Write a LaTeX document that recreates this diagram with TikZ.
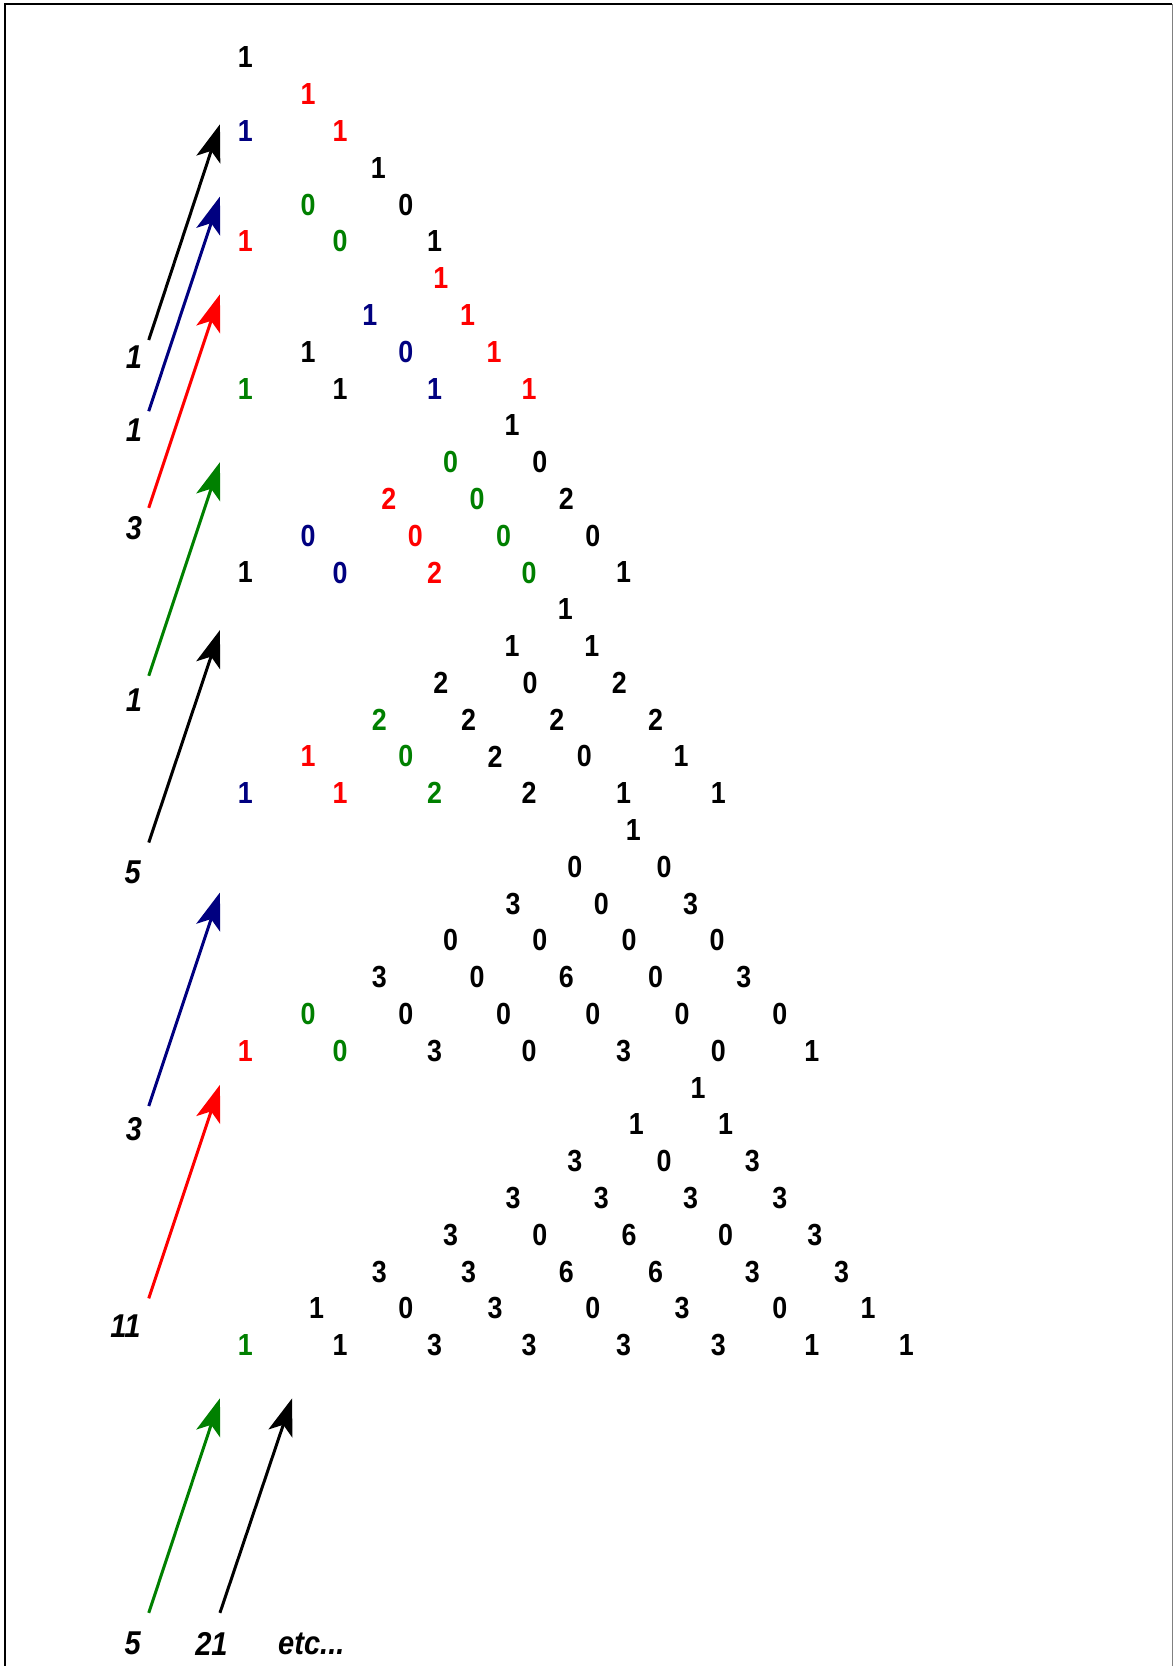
\documentclass[tikz,border=0pt]{standalone}
\usepackage{fontspec}
\setmainfont{Liberation Sans}
\newfontfamily\numfont[FakeStretch=0.88]{Liberation Sans}
\usetikzlibrary{arrows.meta}
\definecolor{cred}{RGB}{255,0,0}
\definecolor{cblue}{RGB}{0,0,128}
\definecolor{cgreen}{RGB}{0,128,0}
\definecolor{cblack}{RGB}{0,0,0}
\newcommand{\numnode}[5]{\node[num,text=#4] (#1) at (#2,{54+34.63*#3}) {#5};}
\begin{document}
\begin{tikzpicture}[x=1.0625pt,y=-1.0625pt,
  num/.style={font=\numfont\fontsize{30.5}{30.5}\selectfont\bfseries,inner sep=0pt,anchor=center},
  lab/.style={font=\numfont\fontsize{33}{33}\selectfont\bfseries\itshape,inner sep=0pt,anchor=center},
  arr/.style={line width=3pt,-{Stealth[length=37pt,width=25pt,inset=9pt]}}]
\useasboundingbox (0,0) rectangle (1104,1568);
\fill[white] (0,0) rectangle (1104,1568);
\draw[line width=2pt,black] (4.7,1568) -- (4.7,3.8) -- (1103.5,3.8);
\draw[line width=1pt,gray] (1103.1,3.8) -- (1103.1,1568);
\numnode{a0}{231}{0}{cblack}{1}
\numnode{b0}{290}{1}{cred}{1}
\numnode{c0}{231}{2}{cblue}{1}
\numnode{c1}{320}{2}{cred}{1}
\numnode{d0}{356}{3}{cblack}{1}
\numnode{e0}{290}{4}{cgreen}{0}
\numnode{e1}{382}{4}{cblack}{0}
\numnode{f0}{231}{5}{cred}{1}
\numnode{f1}{320}{5}{cgreen}{0}
\numnode{f2}{409}{5}{cblack}{1}
\numnode{g0}{415}{6}{cred}{1}
\numnode{h0}{348}{7}{cblue}{1}
\numnode{h1}{440}{7}{cred}{1}
\numnode{i0}{290}{8}{cblack}{1}
\numnode{i1}{382}{8}{cblue}{0}
\numnode{i2}{465}{8}{cred}{1}
\numnode{j0}{231}{9}{cgreen}{1}
\numnode{j1}{320}{9}{cblack}{1}
\numnode{j2}{409}{9}{cblue}{1}
\numnode{j3}{498}{9}{cred}{1}
\numnode{k0}{482}{10}{cblack}{1}
\numnode{l0}{424}{11}{cgreen}{0}
\numnode{l1}{508}{11}{cblack}{0}
\numnode{m0}{366}{12}{cred}{2}
\numnode{m1}{449}{12}{cgreen}{0}
\numnode{m2}{533}{12}{cblack}{2}
\numnode{n0}{290}{13}{cblue}{0}
\numnode{n1}{391}{13}{cred}{0}
\numnode{n2}{474}{13}{cgreen}{0}
\numnode{n3}{558}{13}{cblack}{0}
\numnode{o0}{231}{14}{cblack}{1}
\numnode{o1}{320}{14}{cblue}{0}
\numnode{o2}{409}{14}{cred}{2}
\numnode{o3}{498}{14}{cgreen}{0}
\numnode{o4}{587}{14}{cblack}{1}
\numnode{p0}{532}{15}{cblack}{1}
\numnode{q0}{482}{16}{cblack}{1}
\numnode{q1}{557}{16}{cblack}{1}
\numnode{r0}{415}{17}{cblack}{2}
\numnode{r1}{499}{17}{cblack}{0}
\numnode{r2}{583}{17}{cblack}{2}
\numnode{s0}{357}{18}{cgreen}{2}
\numnode{s1}{441}{18}{cblack}{2}
\numnode{s2}{524}{18}{cblack}{2}
\numnode{s3}{617}{18}{cblack}{2}
\numnode{t0}{290}{19}{cred}{1}
\numnode{t1}{382}{19}{cgreen}{0}
\numnode{t2}{466}{19}{cblack}{2}
\numnode{t3}{550}{19}{cblack}{0}
\numnode{t4}{641}{19}{cblack}{1}
\numnode{u0}{231}{20}{cblue}{1}
\numnode{u1}{320}{20}{cred}{1}
\numnode{u2}{409}{20}{cgreen}{2}
\numnode{u3}{498}{20}{cblack}{2}
\numnode{u4}{587}{20}{cblack}{1}
\numnode{u5}{676}{20}{cblack}{1}
\numnode{v0}{596}{21}{cblack}{1}
\numnode{w0}{541}{22}{cblack}{0}
\numnode{w1}{625}{22}{cblack}{0}
\numnode{x0}{483}{23}{cblack}{3}
\numnode{x1}{566}{23}{cblack}{0}
\numnode{x2}{650}{23}{cblack}{3}
\numnode{y0}{424}{24}{cblack}{0}
\numnode{y1}{508}{24}{cblack}{0}
\numnode{y2}{592}{24}{cblack}{0}
\numnode{y3}{675}{24}{cblack}{0}
\numnode{z0}{357}{25}{cblack}{3}
\numnode{z1}{449}{25}{cblack}{0}
\numnode{z2}{533}{25}{cblack}{6}
\numnode{z3}{617}{25}{cblack}{0}
\numnode{z4}{700}{25}{cblack}{3}
\numnode{aa0}{290}{26}{cgreen}{0}
\numnode{aa1}{382}{26}{cblack}{0}
\numnode{aa2}{474}{26}{cblack}{0}
\numnode{aa3}{558}{26}{cblack}{0}
\numnode{aa4}{642}{26}{cblack}{0}
\numnode{aa5}{734}{26}{cblack}{0}
\numnode{ab0}{231}{27}{cred}{1}
\numnode{ab1}{320}{27}{cgreen}{0}
\numnode{ab2}{409}{27}{cblack}{3}
\numnode{ab3}{498}{27}{cblack}{0}
\numnode{ab4}{587}{27}{cblack}{3}
\numnode{ab5}{676}{27}{cblack}{0}
\numnode{ab6}{764}{27}{cblack}{1}
\numnode{ac0}{657}{28}{cblack}{1}
\numnode{ad0}{599}{29}{cblack}{1}
\numnode{ad1}{683}{29}{cblack}{1}
\numnode{ae0}{541}{30}{cblack}{3}
\numnode{ae1}{625}{30}{cblack}{0}
\numnode{ae2}{708}{30}{cblack}{3}
\numnode{af0}{483}{31}{cblack}{3}
\numnode{af1}{566}{31}{cblack}{3}
\numnode{af2}{650}{31}{cblack}{3}
\numnode{af3}{734}{31}{cblack}{3}
\numnode{ag0}{424}{32}{cblack}{3}
\numnode{ag1}{508}{32}{cblack}{0}
\numnode{ag2}{592}{32}{cblack}{6}
\numnode{ag3}{683}{32}{cblack}{0}
\numnode{ag4}{767}{32}{cblack}{3}
\numnode{ah0}{357}{33}{cblack}{3}
\numnode{ah1}{441}{33}{cblack}{3}
\numnode{ah2}{533}{33}{cblack}{6}
\numnode{ah3}{617}{33}{cblack}{6}
\numnode{ah4}{708}{33}{cblack}{3}
\numnode{ah5}{792}{33}{cblack}{3}
\numnode{ai0}{298}{34}{cblack}{1}
\numnode{ai1}{382}{34}{cblack}{0}
\numnode{ai2}{466}{34}{cblack}{3}
\numnode{ai3}{558}{34}{cblack}{0}
\numnode{ai4}{642}{34}{cblack}{3}
\numnode{ai5}{734}{34}{cblack}{0}
\numnode{ai6}{817}{34}{cblack}{1}
\numnode{aj0}{231}{35}{cgreen}{1}
\numnode{aj1}{320}{35}{cblack}{1}
\numnode{aj2}{409}{35}{cblack}{3}
\numnode{aj3}{498}{35}{cblack}{3}
\numnode{aj4}{587}{35}{cblack}{3}
\numnode{aj5}{676}{35}{cblack}{3}
\numnode{aj6}{764}{35}{cblack}{1}
\numnode{aj7}{853}{35}{cblack}{1}
% labels
\node[lab] (L1) at (126,336) {1};
\node[lab] (L2) at (126,405) {1};
\node[lab] (L3) at (126,497) {3};
\node[lab] (L4) at (126,659) {1};
\node[lab] (L5) at (125,821) {5};
\node[lab] (L6) at (126,1063) {3};
\node[lab] (L7) at (118,1248) {11};
\node[lab] (L8) at (125,1547) {5};
\node[lab] (L9) at (199,1547) {21};
\node[lab] (L10) at (293,1547) {etc...};
% arrow end points
\coordinate (s1) at (140,320);  \coordinate (t1) at (207,117);
\coordinate (s2) at (140,387);  \coordinate (t2) at (207,185);
\coordinate (s3) at (140,478);  \coordinate (t3) at (207,277);
\coordinate (s4) at (140,636);  \coordinate (t4) at (207,435);
\coordinate (s5) at (140,793);  \coordinate (t5) at (207,593);
\coordinate (s6) at (140,1041); \coordinate (t6) at (207,840);
\coordinate (s7) at (140,1222); \coordinate (t7) at (207,1021);
\coordinate (s8) at (140,1518); \coordinate (t8) at (207,1316);
\coordinate (s9) at (207,1518); \coordinate (t9) at (275,1316);
\draw[arr,cblack] (s1) -- (t1);
\draw[arr,cblue] (s2) -- (t2);
\draw[arr,cred] (s3) -- (t3);
\draw[arr,cgreen] (s4) -- (t4);
\draw[arr,cblack] (s5) -- (t5);
\draw[arr,cblue] (s6) -- (t6);
\draw[arr,cred] (s7) -- (t7);
\draw[arr,cgreen] (s8) -- (t8);
\draw[arr,cblack] (s9) -- (t9);
\end{tikzpicture}
\end{document}
